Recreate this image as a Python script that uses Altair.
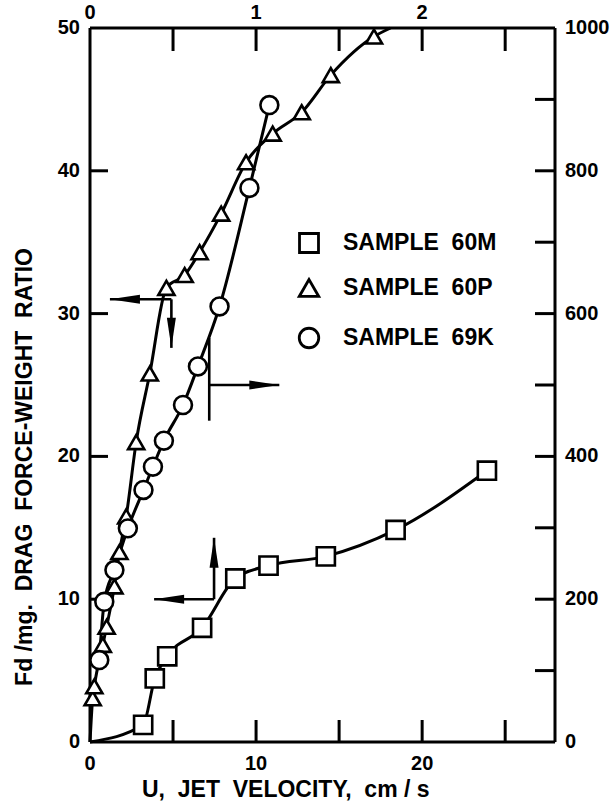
import altair as alt
import pandas as pd

# ---- data (bottom axis: U cm/s, left axis: Fd/mg) ----
# Sample 60M (squares)
m_x = [3.2, 3.9, 4.65, 6.75, 8.75, 10.75, 14.2, 18.4, 23.9]
m_y = [1.2, 4.45, 6.0, 8.0, 11.45, 12.35, 13.0, 14.85, 19.0]
m_start = (0.0, 0.0)

# Sample 60P (triangles)
p_x = [0.16, 0.26, 0.77, 1.0, 1.47, 1.77, 2.18, 2.78, 3.6, 4.6, 5.7, 6.6, 7.9, 9.4, 11.0, 12.75, 14.5, 17.1]
p_y = [3.06, 3.9, 6.8, 8.07, 10.9, 13.3, 15.8, 21.0, 25.8, 31.8, 32.7, 34.3, 37.0, 40.6, 42.6, 44.1, 46.7, 49.4]
p_start = (0.0, 0.0)
p_end = (18.1, 50.0)

# Sample 69K (circles)
k_x = [0.56, 0.86, 1.47, 2.28, 3.22, 3.79, 4.45, 5.6, 6.5, 7.8, 9.6, 10.8]
k_y = [5.74, 9.82, 12.04, 14.96, 17.65, 19.28, 21.1, 23.6, 26.3, 30.5, 38.8, 44.6]

# axis ticks / labels
bottom_labels = [0, 10, 20]
bottom_ticks = [5, 10, 15, 20, 25]
left_labels = [0, 10, 20, 30, 40, 50]
left_ticks = [10, 20, 30, 40]
top_labels = [0, 1, 2]
top_ticks = [0.5, 1.0, 1.5, 2.0, 2.5]
right_labels = [0, 200, 400, 600, 800, 1000]
right_ticks = [100, 200, 300, 400, 500, 600, 700, 800, 900]
TOP_PER_BOTTOM = 10.0   # top axis value x 10 = bottom axis value
RIGHT_PER_LEFT = 20.0   # right axis value / 20 = left axis value

NB = "\u00a0"
x_title = f"U,{NB}{NB}JET{NB}{NB}VELOCITY,{NB}{NB}cm{NB}/{NB}s"
y_title = f"Fd{NB}/mg.{NB}{NB}DRAG{NB}{NB}FORCE-WEIGHT{NB}{NB}RATIO"

# arrows: (x1, y1) junction -> (x2, y2) tip
arr_x1 = [7.47, 7.47, 4.9, 4.9, 7.18, 7.18]
arr_y1 = [10.0, 10.0, 31.0, 31.0, 25.0, 28.3]
arr_x2 = [3.86, 7.47, 1.2, 4.9, 11.4, 7.18]
arr_y2 = [10.0, 14.3, 31.0, 27.6, 25.0, 22.5]
arr_dir = ["left", "up", "left", "down", "right", "none"]

legend_names = [f"SAMPLE{NB}{NB}60M", f"SAMPLE{NB}{NB}60P", f"SAMPLE{NB}{NB}69K"]

W, H = 465, 714
XD, YD = [0, 28], [0, 50]
FONT = "Liberation Sans"

xs = alt.Scale(domain=XD, nice=False, zero=False)
ys = alt.Scale(domain=YD, nice=False, zero=False)
X = lambda f: alt.X(f, scale=xs, axis=None)
Y = lambda f: alt.Y(f, scale=ys, axis=None)

pts = pd.DataFrame(
    {"x": m_x + p_x + k_x,
     "y": m_y + p_y + k_y,
     "s": ["M"] * len(m_x) + ["P"] * len(p_x) + ["K"] * len(k_x)}
)
curve = pd.DataFrame(
    {"x": [m_start[0]] + m_x + [p_start[0]] + p_x + [p_end[0]] + k_x,
     "y": [m_start[1]] + m_y + [p_start[1]] + p_y + [p_end[1]] + k_y,
     "s": ["M"] * (len(m_x) + 1) + ["P"] * (len(p_x) + 2) + ["K"] * len(k_x)}
)
arr = pd.DataFrame({"x1": arr_x1, "y1": arr_y1, "x2": arr_x2, "y2": arr_y2, "d": arr_dir})
one = pd.DataFrame({"a": [0]})

rule = dict(color="black", strokeWidth=3)
# frame
frame = [
    alt.Chart(one).mark_rule(**rule).encode(x=alt.value(0), x2=alt.value(W), y=alt.value(0)),
    alt.Chart(one).mark_rule(**rule).encode(x=alt.value(0), x2=alt.value(W), y=alt.value(H)),
    alt.Chart(one).mark_rule(**rule).encode(x=alt.value(0), y=alt.value(0), y2=alt.value(H)),
    alt.Chart(one).mark_rule(**rule).encode(x=alt.value(W), y=alt.value(0), y2=alt.value(H)),
]

# inward ticks
bt = alt.Chart(pd.DataFrame({"t": bottom_ticks})).mark_rule(**rule).encode(
    x=X("t:Q"), y=alt.value(H), y2=alt.value(H - 22))
lt = alt.Chart(pd.DataFrame({"t": left_ticks})).mark_rule(**rule).encode(
    y=Y("t:Q"), x=alt.value(0), x2=alt.value(18))
tt = alt.Chart(pd.DataFrame({"t": top_ticks})).transform_calculate(
    p=f"datum.t * {TOP_PER_BOTTOM}").mark_rule(**rule).encode(
    x=X("p:Q"), y=alt.value(0), y2=alt.value(23))
rt = alt.Chart(pd.DataFrame({"t": right_ticks})).transform_calculate(
    p=f"datum.t / {RIGHT_PER_LEFT}").mark_rule(**rule).encode(
    y=Y("p:Q"), x=alt.value(W), x2=alt.value(W - 20))

# tick labels
txt = dict(font=FONT, fontWeight="bold", fontSize=20, color="black")
bl = alt.Chart(pd.DataFrame({"t": bottom_labels})).mark_text(baseline="top", dy=12, **txt).encode(
    x=X("t:Q"), y=alt.value(H), text="t:Q")
ll = alt.Chart(pd.DataFrame({"t": left_labels})).mark_text(align="right", baseline="middle", dx=-10, **txt).encode(
    y=Y("t:Q"), x=alt.value(0), text="t:Q")
tl = alt.Chart(pd.DataFrame({"t": top_labels})).transform_calculate(
    p=f"datum.t * {TOP_PER_BOTTOM}").mark_text(baseline="bottom", dy=-5, **txt).encode(
    x=X("p:Q"), y=alt.value(0), text="t:Q")
rl = alt.Chart(pd.DataFrame({"t": right_labels})).transform_calculate(
    p=f"datum.t / {RIGHT_PER_LEFT}").mark_text(align="left", baseline="middle", dx=10, **txt).encode(
    y=Y("p:Q"), x=alt.value(W), text=alt.Text("t:Q", format="d"))

# axis titles
xt = alt.Chart(pd.DataFrame({"t": [x_title]})).mark_text(
    align="left", baseline="alphabetic", font=FONT, fontWeight="bold", fontSize=23, color="black").encode(
    text="t:N", x=alt.value(52), y=alt.value(H + 55))
yt = alt.Chart(pd.DataFrame({"t": [y_title]})).mark_text(
    align="center", baseline="middle", angle=270, font=FONT, fontWeight="bold", fontSize=23,
    color="black").encode(text="t:N", x=alt.value(-65), y=alt.value(439))

lines = alt.Chart(curve).mark_line(color="black", strokeWidth=3, interpolate="monotone").encode(
    x=X("x:Q"), y=Y("y:Q"), detail="s:N")

def pt_layer(series, shape, size):
    return alt.Chart(pts).transform_filter(alt.datum.s == series).mark_point(
        shape=shape, size=size, filled=True, fill="white", stroke="black",
        strokeWidth=2.6, opacity=1).encode(x=X("x:Q"), y=Y("y:Q"))

sq = pt_layer("M", "square", 330)
tri = pt_layer("P", "triangle-up", 260)
cir = pt_layer("K", "circle", 320)

shafts = alt.Chart(arr).mark_rule(color="black", strokeWidth=2.6).encode(
    x=X("x1:Q"), x2="x2:Q", y=Y("y1:Q"), y2="y2:Q")

heads_shape = {
    "left": "M 0 0 L 2 -0.3 L 2 0.3 Z",
    "right": "M 0 0 L -2 -0.3 L -2 0.3 Z",
    "up": "M 0 0 L -0.3 2 L 0.3 2 Z",
    "down": "M 0 0 L -0.3 -2 L 0.3 -2 Z",
}
heads = []
for d, path in heads_shape.items():
    heads.append(alt.Chart(arr).transform_filter(alt.datum.d == d).mark_point(
        shape=path, size=900, filled=True, color="black", opacity=1, strokeWidth=0).encode(
        x=X("x2:Q"), y=Y("y2:Q")))

# legend (inside plot)
leg_df = pd.DataFrame({"name": legend_names, "row": [0, 1, 2]})
leg_y = {0: 215, 1: 260, 2: 310}
leg_layers = []
for i, shape in enumerate(["square", "triangle-up", "circle"]):
    size = {"square": 360, "triangle-up": 380, "circle": 380}[shape]
    leg_layers.append(alt.Chart(leg_df).transform_filter(alt.datum.row == i).mark_point(
        shape=shape, size=size, filled=True, fill="white", stroke="black", strokeWidth=2.8,
        opacity=1).encode(x=alt.value(219), y=alt.value(leg_y[i])))
    leg_layers.append(alt.Chart(leg_df).transform_filter(alt.datum.row == i).mark_text(
        align="left", baseline="middle", font=FONT, fontWeight="bold", fontSize=23,
        color="black").encode(text="name:N", x=alt.value(253), y=alt.value(leg_y[i])))

chart = alt.layer(*frame, bt, lt, tt, rt, bl, ll, tl, rl, xt, yt, lines, *heads, shafts,
                  sq, tri, cir, *leg_layers).properties(
    width=W, height=H,
    padding={"left": 90, "top": 28, "right": 59, "bottom": 62},
    autosize=alt.AutoSizeParams(type="none"),
).configure_view(stroke=None).configure(background="white")

chart.save("out.html", embed_options={"renderer": "svg", "actions": False})
